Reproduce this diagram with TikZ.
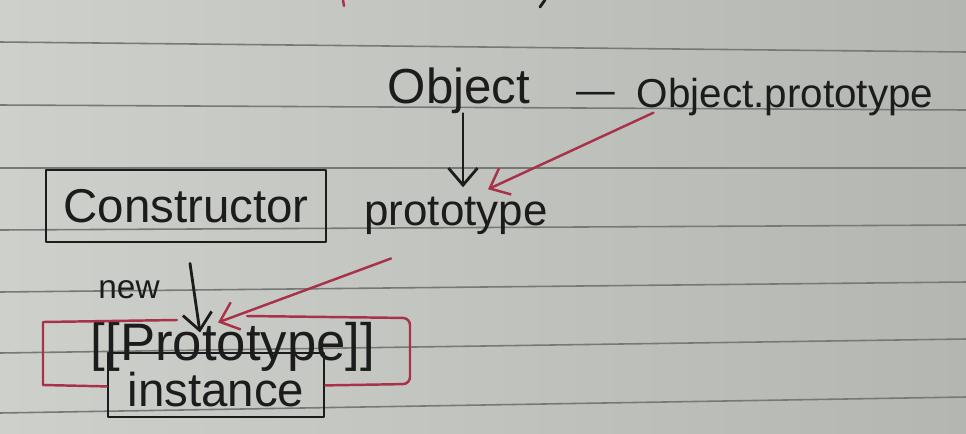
\documentclass[tikz,border=0pt]{standalone}
\usepackage{fontspec}
\setmainfont{Liberation Sans}
\usetikzlibrary{calc}
\usetikzlibrary{arrows.meta}

\definecolor{paperL}{RGB}{206,208,204}
\definecolor{paperR}{RGB}{180,182,178}
\definecolor{ruleline}{RGB}{118,121,118}
\definecolor{inkblack}{RGB}{28,28,28}
\definecolor{inkred}{RGB}{168,50,72}

\newcommand{\fs}[1]{\fontsize{#1}{#1}\selectfont}

\begin{document}
\begin{tikzpicture}[x=0.02cm, y=-0.02cm,
  ink/.style={draw=inkblack, line width=1.6pt, line cap=round, line join=round},
  redink/.style={draw=inkred, line width=1.4pt, line cap=round, line join=round},
  word/.style={inner sep=0pt, anchor=base, text=inkblack},
  >={Straight Barb[length=3.4mm,width=5.8mm]}]
  \useasboundingbox (0,0) rectangle (966,433);
  % paper and its ruled lines
  \fill [left color=paperL, right color=paperR] (0,0) rectangle (966,433);
  \foreach \l/\r in {42/52,105/110,168/168,230/225,292/282,353/339,413/397}
    \draw [ruleline, line width=0.9pt] (0,\l) -- (966,\r);
  \draw [redink] (343,0) -- (344,6);
  \draw [ink] (545,0) -- (540,7);

  \node [word, font=\fs{28}] (obj) at (459,103) {Object};
  \node [word, font=\fs{22}] (dash) at (596,103) {—};
  \node [word, font=\fs{23}] (objproto) at (785,107) {Object.prototype};
  \node [word, font=\fs{25}] (proto) at (456,225) {prototype};
  \node [ink, minimum width=5.6cm, minimum height=1.44cm, inner sep=0pt,
         font=\fs{27}, text=inkblack] (ctor) at (186,206) {Constructor};
  \node [word, font=\fs{19}] (new) at (129,298) {new};
  \node [word, font=\fs{30}] (proto2) at (233,360) {[[Prototype]]};
  \node [ink, minimum width=4.32cm, minimum height=1.28cm, inner sep=0pt,
         text height=0.86cm, font=\fs{27}, text=inkblack] (inst) at (216,385) {instance};

  % red frame round [[Prototype]]
  \draw [redink] ($(inst.south west)+(0,-32)$) -- (43,385) -- (43,322) -- (177,320);
  \draw [redink, rounded corners=4pt] (247,316) -- (410,318) -- (410,384)
    -- ($(inst.south east)+(0,-33)$);

  \draw [ink, ->] ($(obj.south)+(4,0)$) -- ($(proto.north)+(7,-9)$);
  \draw [redink, ->] ($(objproto.south west)+(17,-3)$) -- ($(proto.north)+(32,-7)$);
  \draw [ink, ->] ($(ctor.south)+(4,20)$) -- ($(proto2.north)+(-33,11)$);
  \draw [redink, ->] ($(proto.south west)+(27,24)$) -- ($(proto2.north)+(-15,1)$);
\end{tikzpicture}
\end{document}
